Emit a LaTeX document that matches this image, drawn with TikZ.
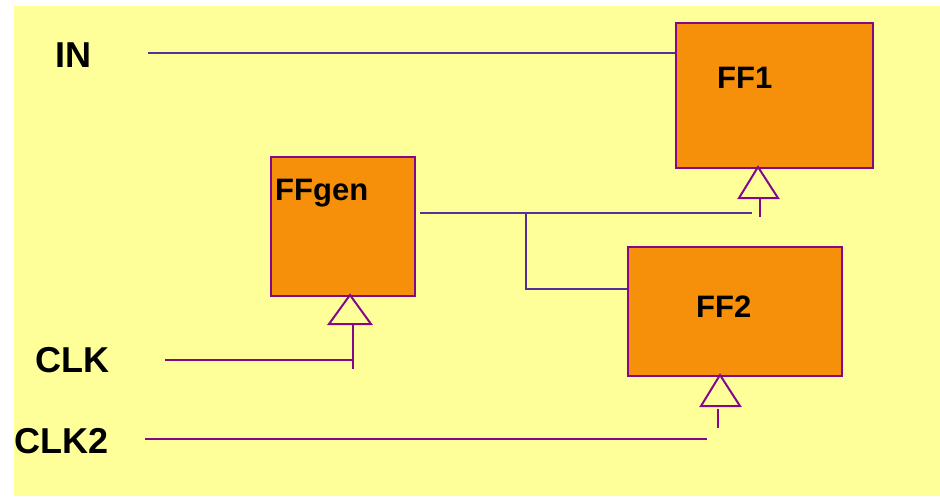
\documentclass[tikz,border=0pt]{standalone}
\usepackage{fontspec}
\setmainfont{Liberation Sans}
\begin{document}
\begin{tikzpicture}[x=1pt,y=-1pt,
  ffbox/.style={draw=ffborder,fill=fforange,line width=2pt,inner sep=0pt,anchor=north west},
  sig/.style={draw=wireblue,line width=1.8pt},
  clkw/.style={draw=ffborder,line width=1.8pt},
  clktri/.style={draw=ffborder,fill=bgyellow,line width=2pt,line join=miter},
  pinlabel/.style={font=\bfseries\fontsize{36}{40}\selectfont,anchor=base west,inner sep=0pt},
  boxlabel/.style={font=\bfseries\fontsize{31}{35}\selectfont,anchor=base west,inner sep=0pt}]
\definecolor{bgyellow}{HTML}{FFFF99}
\definecolor{fforange}{HTML}{F6900A}
\definecolor{ffborder}{HTML}{86088A}
\definecolor{wireblue}{HTML}{55309A}
% canvas
\fill[white] (0,0) rectangle (940,496);
\fill[bgyellow] (14,6) rectangle (940,496);
\useasboundingbox (0,0) rectangle (940,496);

% flip-flop boxes
\node[ffbox,minimum width=197pt,minimum height=145pt] (ff1) at (675,22) {};
\node[ffbox,minimum width=144pt,minimum height=139pt] (ffgen) at (270,156) {};
\node[ffbox,minimum width=214pt,minimum height=129pt] (ff2) at (627,246) {};

% box labels
\node[boxlabel] (t1) at (717,88) {FF1};
\node[boxlabel] (tg) at (275,200) {FFgen};
\node[boxlabel] (t2) at (696,317) {FF2};

% pin labels
\node[pinlabel] (lin) at (55,67) {IN};
\node[pinlabel] (lclk) at (35,372) {CLK};
\node[pinlabel] (lclk2) at (14,453) {CLK2};

% wire end points
\coordinate (inw) at (148,53);
\coordinate (clkw) at (165,360);
\coordinate (clk2w) at (145,439);
\coordinate (genout) at (420,213);
\coordinate (tap) at (526,213);

% clock triangles
\coordinate (ag) at (350,295);
\coordinate (a1) at (758,167);
\coordinate (a2) at (720,375);
\draw[clktri] (ag) -- (329,324) -- (371,324) -- cycle;
\draw[clktri] (a1) -- (739,198) -- (778,198) -- cycle;
\draw[clktri] (a2) -- (701,406) -- (740,406) -- cycle;

% clock stubs
\coordinate (sg) at (353,324);
\coordinate (s1) at (760,198);
\coordinate (s2) at (718,409);
\draw[clkw] (sg) -- (353,369);
\draw[clkw] (s1) -- (760,217);
\draw[clkw] (s2) -- (718,428);

% signal wires
\draw[sig] (inw) -- (inw -| ff1.west);
\draw[sig] (genout) -- (752,213);
\draw[sig] (tap) -- (526,289) -- (526,289 -| ff2.west);

% clock wires
\draw[clkw] (clkw) -- (353,360);
\draw[clkw] (clk2w) -- (707,439);
\end{tikzpicture}
\end{document}
